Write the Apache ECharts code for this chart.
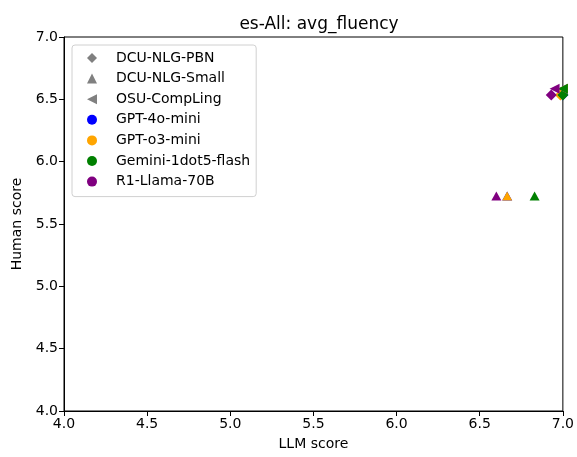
<!DOCTYPE html>
<html>
<head>
<meta charset="utf-8">
<script src="https://cdn.jsdelivr.net/npm/echarts@6/dist/echarts.min.js"></script>
<style>
  html, body { margin: 0; padding: 0; background: #fff; }
  #chart { width: 577px; height: 457px; }
</style>
</head>
<body>
<div id="chart"></div>
<script>
// systems are shown by marker shape, LLM judges by colour
const systems = ['DCU-NLG-PBN', 'DCU-NLG-Small', 'OSU-CompLing']
const models = ['GPT-4o-mini', 'GPT-o3-mini', 'Gemini-1dot5-flash', 'R1-Llama-70B']

// human score per system
const humanScores = [6.535, 5.725, 6.585]

// LLM score per system, one value per model (same order as models)
const llmPBN = [7.0, 6.985, 7.0, 6.93]
const llmSmall = [6.665, 6.665, 6.83, 6.6]
const llmOSU = [7.0, 7.0, 7.0, 6.95]

const xTicks = [4.0, 7.0, 0.5]
const yTicks = [4.0, 7.0, 0.5]

const llmScores = [llmPBN, llmSmall, llmOSU]
const modelColors = ['#0000ff', '#ffa500', '#008000', '#800080']
const leftTri = 'path://M0,5L10,0L10,10Z'
const systemSymbols = ['diamond', 'triangle', leftTri]
const systemSizes = [[11, 11], [10, 9], [10, 10]]
const font = 'DejaVu Sans'

const chart = echarts.init(document.getElementById('chart'))

const systemSeries = systems.map((name, s) => ({
  name,
  type: 'scatter',
  symbol: systemSymbols[s],
  symbolSize: systemSizes[s],
  itemStyle: { color: '#808080', opacity: 1 },
  clip: true,
  data: models.map((m, i) => ({
    value: [llmScores[s][i], humanScores[s]],
    itemStyle: { color: modelColors[i], opacity: 1 }
  }))
}))

const modelSeries = models.map((name, i) => ({
  name,
  type: 'scatter',
  symbol: 'circle',
  itemStyle: { color: modelColors[i], opacity: 1 },
  data: []
}))

chart.setOption({
  animation: false,
  textStyle: { fontFamily: font },
  title: {
    text: 'es-All: avg_fluency',
    left: 314,
    top: 11,
    textAlign: 'center',
    textStyle: { fontSize: 17, fontWeight: 'normal', color: '#000', fontFamily: font }
  },
  grid: {
    left: 64, right: 13, top: 37, bottom: 46,
    show: true, borderColor: '#000', borderWidth: 1
  },
  legend: {
    orient: 'vertical',
    left: 72,
    top: 45,
    padding: [6, 6, 8, 15],
    itemWidth: 10,
    itemHeight: 10,
    itemGap: 6.6,
    backgroundColor: '#fff',
    borderColor: '#d0d0d0',
    borderWidth: 1,
    borderRadius: 3,
    selectedMode: false,
    itemStyle: { opacity: 1 },
    textStyle: { fontSize: 14, color: '#000', fontFamily: font, padding: [0, 0, 0, 14] },
    data: [
      { name: systems[0], icon: 'diamond' },
      { name: systems[1], icon: 'triangle' },
      { name: systems[2], icon: leftTri },
      ...models.map(name => ({ name, icon: 'circle' }))
    ]
  },
  xAxis: {
    type: 'value',
    min: xTicks[0],
    max: xTicks[1],
    interval: xTicks[2],
    name: 'LLM score',
    nameLocation: 'middle',
    nameGap: 26,
    nameTextStyle: { fontSize: 14, color: '#000', fontFamily: font },
    axisLine: { onZero: false, lineStyle: { color: '#000' } },
    axisTick: { length: 5, lineStyle: { color: '#000' } },
    axisLabel: { fontSize: 14, color: '#000', margin: 6, formatter: v => v.toFixed(1) },
    splitLine: { show: false }
  },
  yAxis: {
    type: 'value',
    min: yTicks[0],
    max: yTicks[1],
    interval: yTicks[2],
    name: 'Human score',
    nameLocation: 'middle',
    nameGap: 38,
    nameTextStyle: { fontSize: 14, color: '#000', fontFamily: font },
    axisLine: { onZero: false, lineStyle: { color: '#000' } },
    axisTick: { length: 5, lineStyle: { color: '#000' } },
    axisLabel: { fontSize: 14, color: '#000', margin: 6, formatter: v => v.toFixed(1) },
    splitLine: { show: false }
  },
  series: [...systemSeries, ...modelSeries]
})
</script>
</body>
</html>
